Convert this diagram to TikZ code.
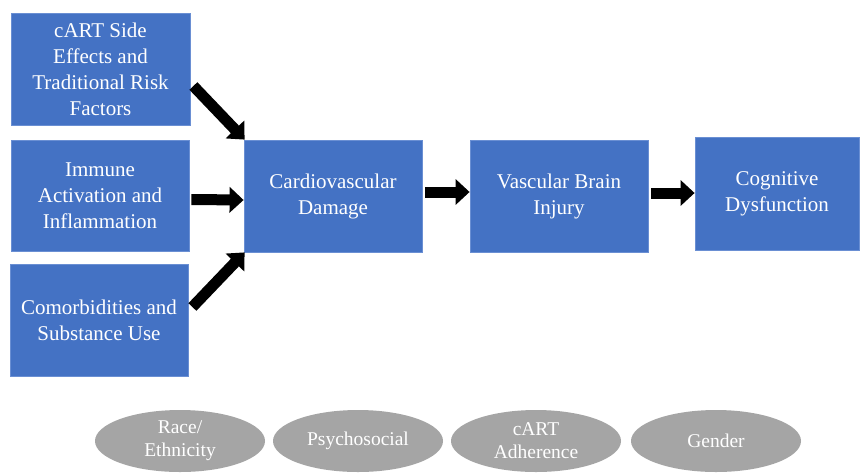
\documentclass[tikz,border=0pt]{standalone}
\usepackage{fontspec}
\setmainfont{Liberation Serif}
\usetikzlibrary{shapes.geometric,arrows.meta}
\definecolor{boxblue}{HTML}{4472C4}
\definecolor{boxline}{HTML}{6A8FD3}
\definecolor{ovalgray}{HTML}{A5A5A5}
\begin{document}
\begin{tikzpicture}[x=1pt,y=-1pt,
  bluebox/.style={rectangle,fill=boxblue,draw=boxline,line width=0.8pt,text=white,align=center,inner sep=0pt,
    font=\fontsize{21}{26}\selectfont},
  oval/.style={ellipse,fill=ovalgray,draw=none,text=white,align=center,inner sep=0pt,
    minimum width=170pt,minimum height=62pt,font=\fontsize{19.5}{23}\selectfont},
  fatarrow/.style={line width=11pt,-{Triangle[length=14pt,width=25pt]}}]
\useasboundingbox (0,0) rectangle (860,475);
\fill[white] (0,0) rectangle (860,475);
\node[bluebox,minimum width=179pt,minimum height=112pt] (b1) at (100.5,69) {cART Side\\Effects and\\Traditional Risk\\Factors};
\node[bluebox,minimum width=178pt,minimum height=111pt] (b2) at (100,195.5) {Immune\\Activation and\\Inflammation};
\node[bluebox,minimum width=178pt,minimum height=112pt] (b3) at (99,320) {Comorbidities and\\Substance Use};
\node[bluebox,minimum width=178pt,minimum height=112pt] (cv) at (333,196) {Cardiovascular\\Damage};
\node[bluebox,minimum width=178pt,minimum height=112pt] (vb) at (559,196) {Vascular Brain\\Injury};
\node[bluebox,minimum width=164pt,minimum height=113pt] (cg) at (777,193.5) {Cognitive\\Dysfunction};
\draw[fatarrow] ([xshift=3pt,yshift=-17pt]b1.east) -- ([xshift=1pt]cv.north west);
\draw[fatarrow] ([xshift=2pt,yshift=-4pt]b2.east) -- ([yshift=-4pt]cv.west);
\draw[fatarrow] ([xshift=4pt,yshift=13pt]b3.east) -- ([xshift=1pt]cv.south west);
\draw[fatarrow] ([xshift=3pt,yshift=4pt]cv.east) -- ([yshift=4pt]vb.west);
\draw[fatarrow] ([xshift=3pt,yshift=3pt]vb.east) -- ([yshift=0.5pt]cg.west);
\node[oval] (o1) at (180,441) {Race/\\Ethnicity};
\node[oval] (o2) at (358,441) {Psychosocial};
\node[oval] (o3) at (536,441) {cART\\Adherence};
\node[oval] (o4) at (716,441) {Gender};
\end{tikzpicture}
\end{document}
